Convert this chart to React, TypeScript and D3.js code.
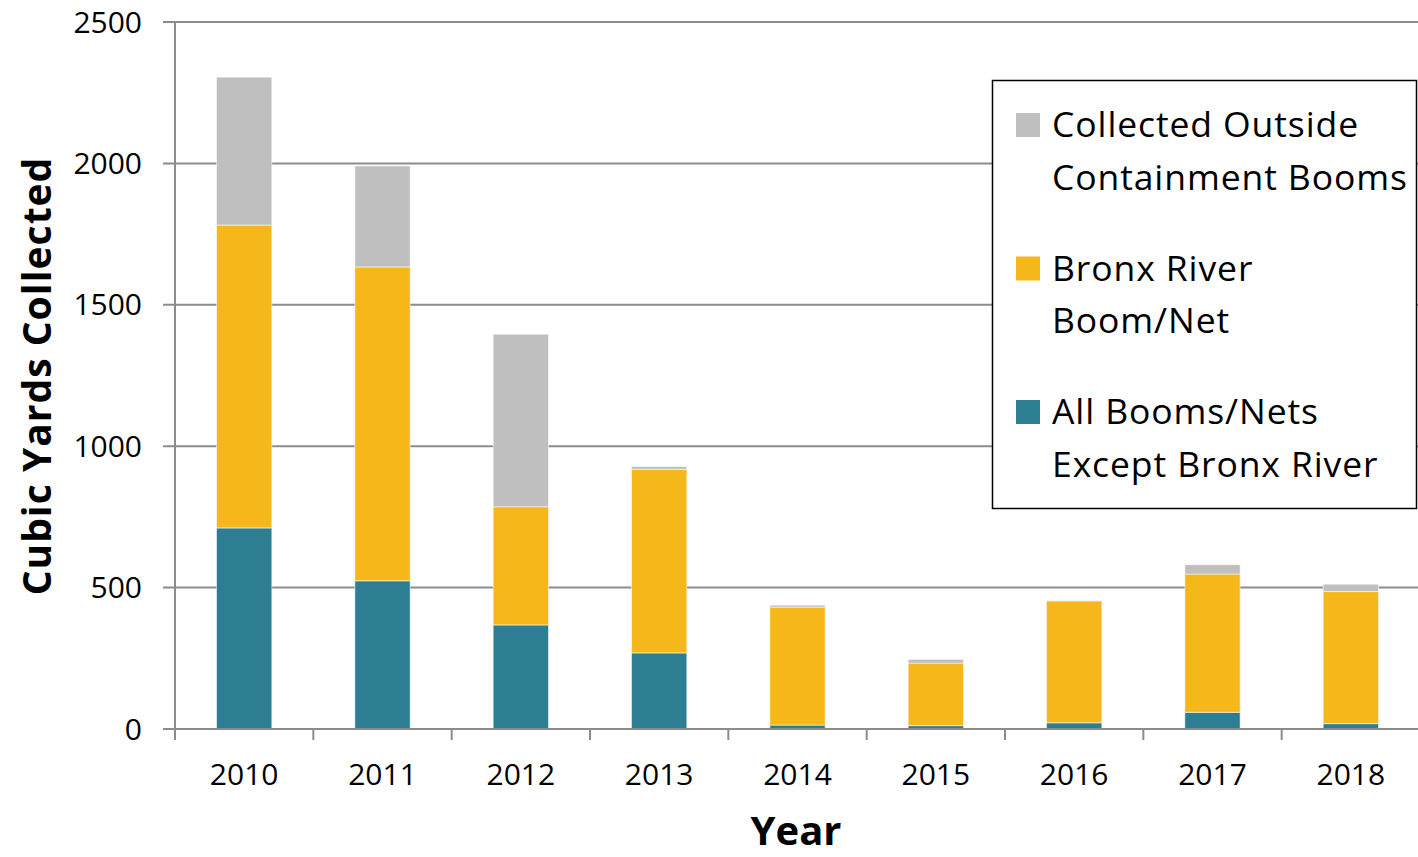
import React from "react";
import * as d3 from "d3";

// Annual floatables collection, cubic yards
const years = ["2010", "2011", "2012", "2013", "2014", "2015", "2016", "2017", "2018"];
const exceptBronx = [711, 524, 368, 269, 14, 12, 22, 59, 19];
const bronxBoom = [1071, 1110, 418, 649, 417, 221, 431, 489, 467];
const outsideBooms = [523, 357, 610, 10, 7, 13, 1, 33, 26];

const seriesKeys = ["exceptBronx", "bronxBoom", "outsideBooms"];
const seriesColors: Record<string, string> = {
  exceptBronx: "#2E7E93",
  bronxBoom: "#F5B71A",
  outsideBooms: "#BFBFBF",
};
const legendItems = [
  { key: "outsideBooms", lines: ["Collected Outside", "Containment Booms"] },
  { key: "bronxBoom", lines: ["Bronx River", "Boom/Net"] },
  { key: "exceptBronx", lines: ["All Booms/Nets", "Except Bronx River"] },
];
const yTicks = [0, 500, 1000, 1500, 2000, 2500];

const W = 1418;
const H = 857;
const FONT = "'Open Sans', 'Noto Sans', sans-serif";
const GRID = "#8C8C8C";

export default function App() {
  const left = 175;
  const right = 1420;
  const bottom = 729;
  const top = 22;

  const x = d3.scaleBand<string>().domain(years).range([left, right]).paddingInner(0.6).paddingOuter(0.3);
  const y = d3.scaleLinear().domain([0, 2500]).range([bottom, top]);
  const step = x.step();

  const table = years.map((yr, i) => ({
    year: yr,
    exceptBronx: exceptBronx[i],
    bronxBoom: bronxBoom[i],
    outsideBooms: outsideBooms[i],
  }));
  const stacked = d3.stack<any>().keys(seriesKeys)(table);

  const tickEdges = d3.range(years.length + 1).map((i) => left + i * step);

  return (
    <svg width={W} height={H} style={{ position: "absolute", left: 0, top: 0, background: "#fff" }} fontFamily={FONT}>
      {/* horizontal gridlines */}
      {yTicks.map((t) => (
        <line key={t} x1={163} x2={W} y1={y(t)} y2={y(t)} stroke={GRID} strokeWidth={2} />
      ))}
      {/* y tick labels */}
      {yTicks.map((t) => (
        <text key={"l" + t} x={142} y={y(t) + 10.5} textAnchor="end" fontSize={30} fill="#000">
          {t}
        </text>
      ))}
      {/* stacked bars */}
      {stacked.map((layer) => (
        <g key={layer.key} fill={seriesColors[layer.key]}>
          {layer.map((d, i) => (
            <rect
              key={i}
              x={x(years[i])!}
              width={x.bandwidth()}
              y={y(d[1])}
              height={Math.max(0, y(d[0]) - y(d[1]))}
              stroke="#ffffff"
              strokeOpacity={0.55}
              strokeWidth={1}
            />
          ))}
        </g>
      ))}
      {/* axes */}
      <line x1={left} x2={left} y1={top - 1} y2={740} stroke={GRID} strokeWidth={2} />
      <line x1={163} x2={W} y1={bottom} y2={bottom} stroke={GRID} strokeWidth={2} />
      {tickEdges.map((tx, i) => (
        <line key={"t" + i} x1={tx} x2={tx} y1={bottom} y2={740} stroke={GRID} strokeWidth={2} />
      ))}
      {/* x tick labels */}
      {years.map((yr) => (
        <text key={"x" + yr} x={x(yr)! + x.bandwidth() / 2} y={785} textAnchor="middle" fontSize={30} fill="#000">
          {yr}
        </text>
      ))}
      {/* axis titles */}
      <text x={796} y={845} textAnchor="middle" fontSize={40} fontWeight="bold" fill="#000">
        Year
      </text>
      <text
        transform={`translate(51, 376) rotate(-90)`}
        textAnchor="middle"
        fontSize={39}
        fontWeight="bold"
        letterSpacing={1}
        fill="#000"
      >
        Cubic Yards Collected
      </text>
      {/* legend */}
      <rect x={992.5} y={80.5} width={424} height={428} fill="#fff" stroke="#000" strokeWidth={1.5} />
      {legendItems.map((item, i) => {
        const base = 113 + i * 143.5;
        return (
          <g key={item.key}>
            <rect x={1016} y={base} width={24} height={24} fill={seriesColors[item.key]} />
            {item.lines.map((ln, j) => (
              <text key={j} x={1052} y={base + 24 + j * 52.5} fontSize={35.5} letterSpacing={0.9} fill="#000">
                {ln}
              </text>
            ))}
          </g>
        );
      })}
    </svg>
  );
}
